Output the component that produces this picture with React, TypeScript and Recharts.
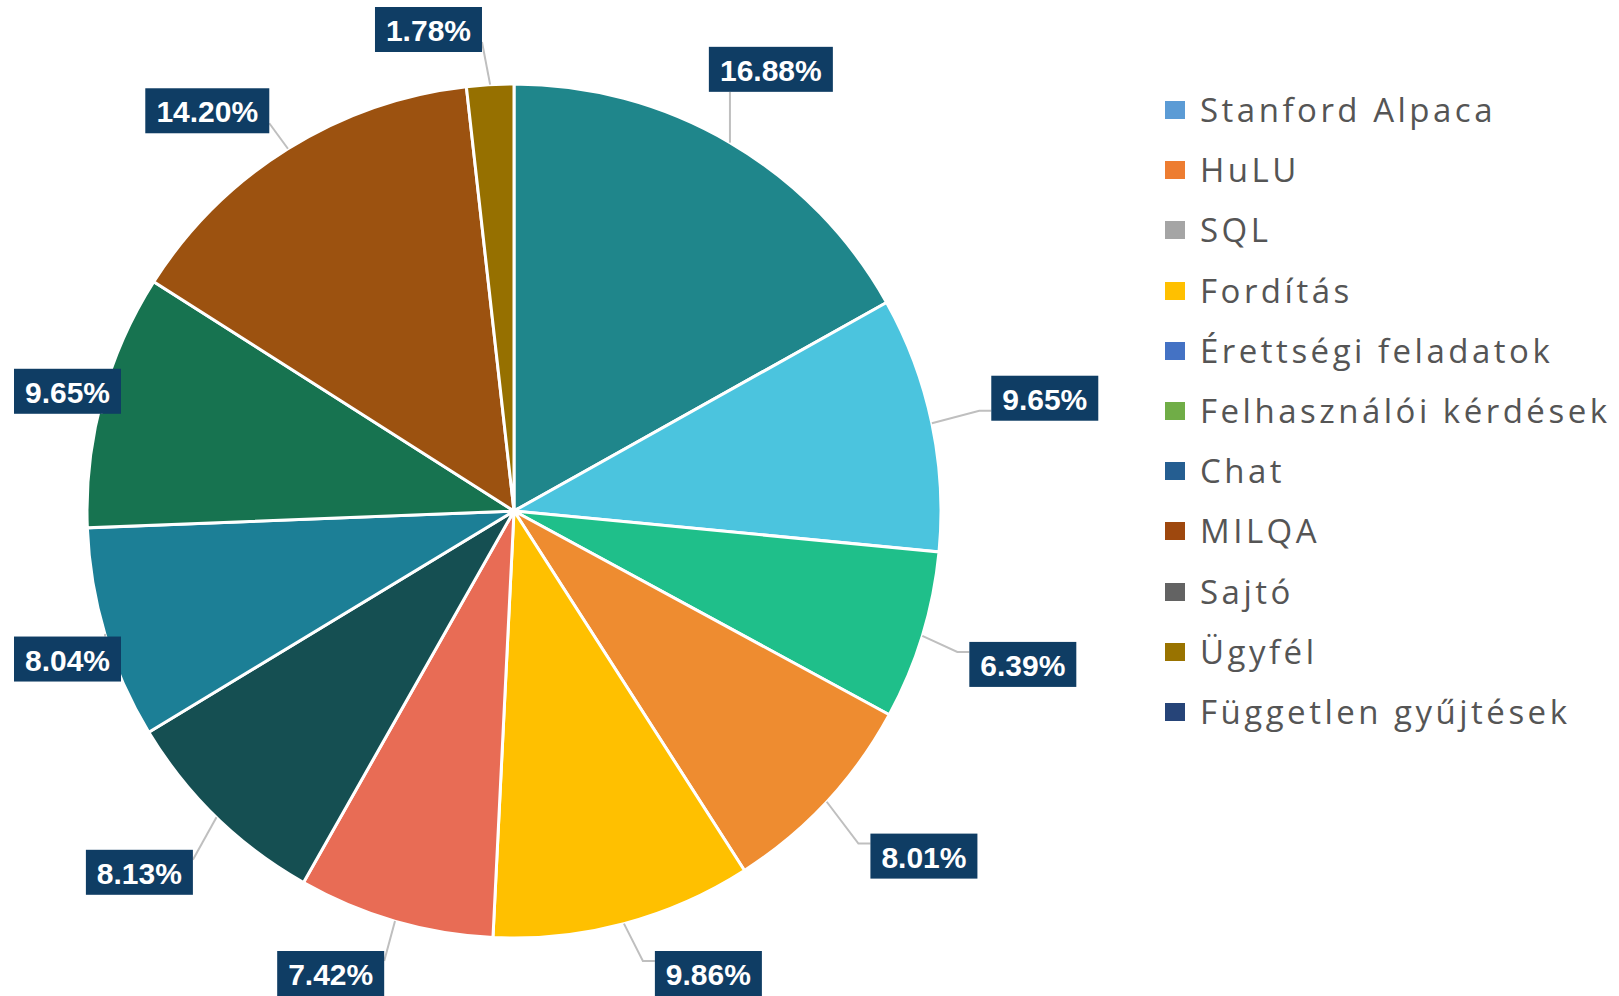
import React from 'react';
import { PieChart, Pie, Cell, Legend } from 'recharts';

const categories = [
  'Stanford Alpaca',
  'HuLU',
  'SQL',
  'Fordítás',
  'Érettségi feladatok',
  'Felhasználói kérdések',
  'Chat',
  'MILQA',
  'Sajtó',
  'Ügyfél',
  'Független gyűjtések',
];

// slice shares in percent, clockwise from 12 o'clock
const shares = [16.88, 9.65, 6.39, 8.01, 9.86, 7.42, 8.13, 8.04, 9.65, 14.2, 1.78];

const sliceColors = [
  '#1F868B', '#4BC4DE', '#1FBF8A', '#EE8C30', '#FFC000', '#E86C55',
  '#154F52', '#1C7F96', '#177350', '#9C5210', '#967000',
];

const legendColors = [
  '#5B9BD5', '#ED7D31', '#A5A5A5', '#FFC000', '#4472C4', '#70AD47',
  '#255E91', '#9E480E', '#636363', '#997300', '#264478',
];

const data = shares.map((v, i) => ({ name: categories[i], value: v }));

const W = 1619;
const H = 996;
const CX = 514;
const CY = 511;
const R = 427;

// small callout adjustments, like Excel's best-fit placement
const labelNudge: [number, number][] = [
  [-5, 5], [18, -5], [7, 0], [28, -10], [65, 2], [-43, 2],
  [-12, -12], [0, -3], [0, 17], [-32, 40], [-58, -1],
];

const charW: Record<string, number> = { '.': 0.278, '%': 0.889 };
const textWidth = (s: string, size: number) =>
  s.split('').reduce((a, c) => a + (charW[c] ?? 0.556), 0) * size;

const RAD = Math.PI / 180;

const renderLabel = (props: any) => {
  const { midAngle, index, value } = props;
  const cx = Number(props.cx ?? CX);
  const cy = Number(props.cy ?? CY);
  const outer = Number(props.outerRadius ?? R);
  const text = `${Number(value).toFixed(2)}%`;
  const fs = 30;
  const bw = Math.round(textWidth(text, fs) + 22);
  const bh = 45;
  const ux = Math.cos(-midAngle * RAD);
  const uy = Math.sin(-midAngle * RAD);
  const px = cx + outer * ux;
  const py = cy + outer * uy;
  const half = Math.abs(ux) * bw / 2 + Math.abs(uy) * bh / 2;
  const d = outer + 40 + half;
  let bx = cx + d * ux;
  let by = cy + d * uy;
  const clamp = (v: number, lo: number, hi: number) => Math.max(lo, Math.min(hi, v));
  bx = clamp(bx, 14 + bw / 2, W - bw / 2);
  by = clamp(by, 7 + bh / 2, H - bh / 2);
  const n = labelNudge[index] || [0, 0];
  bx = clamp(bx + n[0], 14 + bw / 2, W - bw / 2);
  by = clamp(by + n[1], 7 + bh / 2, H - bh / 2);
  const left = bx - bw / 2;
  const right = bx + bw / 2;
  const top = by - bh / 2;
  const bottom = by + bh / 2;

  let pts: number[][];
  if (px >= left && px <= right) {
    const qx = clamp(px, left + 10, right - 10);
    const qy = py < top ? top : bottom;
    pts = [[px, py], [qx, qy]];
  } else {
    const onRight = px > right;
    const qx = onRight ? right : left;
    const qy = clamp(py, top + 10, bottom - 10);
    if (Math.abs(px - qx) > 24) {
      const ex = onRight ? qx + 12 : qx - 12;
      pts = [[px, py], [ex, qy], [qx, qy]];
    } else {
      pts = [[px, py], [qx, qy]];
    }
  }

  return (
    <g key={`lbl-${index}`}>
      <polyline
        points={pts.map((p) => p.join(',')).join(' ')}
        fill="none"
        stroke="#BFBFBF"
        strokeWidth={2}
      />
      <rect x={left} y={top} width={bw} height={bh} fill="#0F3D64" />
      <text
        x={bx}
        y={by + 1}
        textAnchor="middle"
        dominantBaseline="central"
        fill="#FFFFFF"
        fontFamily="'Liberation Sans', Arial, sans-serif"
        fontWeight="bold"
        fontSize={fs}
      >
        {text}
      </text>
    </g>
  );
};

const renderLegend = () => (
  <div style={{ fontFamily: "'Open Sans', sans-serif" }}>
    {categories.map((c, i) => (
      <div
        key={c}
        style={{ display: 'flex', alignItems: 'center', height: 60.2 }}
      >
        <div
          style={{
            width: 20,
            height: 18,
            background: legendColors[i],
            marginRight: 15,
          }}
        />
        <span
          style={{
            fontSize: 33,
            color: '#555555',
            lineHeight: '60px',
            letterSpacing: 3.5,
            whiteSpace: 'nowrap',
          }}
        >
          {c}
        </span>
      </div>
    ))}
  </div>
);

const App = () => {
  return (
    <div
      style={{
        position: 'absolute',
        left: 0,
        top: 0,
        width: W,
        height: H,
        background: '#FFFFFF',
        overflow: 'hidden',
      }}
    >
      <PieChart width={W} height={H} margin={{ top: 0, right: 0, bottom: 0, left: 0 }}>
        <Pie
          data={data}
          dataKey="value"
          nameKey="name"
          cx={CX}
          cy={CY}
          outerRadius={R}
          startAngle={90}
          endAngle={-270}
          stroke="#FFFFFF"
          strokeWidth={3}
          label={renderLabel}
          labelLine={false}
          isAnimationActive={false}
        >
          {data.map((d, i) => (
            <Cell key={d.name} fill={sliceColors[i]} />
          ))}
        </Pie>
        <Legend
          content={renderLegend}
          layout="vertical"
          verticalAlign="top"
          align="right"
          wrapperStyle={{ left: 1165, top: 80, width: 454 }}
        />
      </PieChart>
    </div>
  );
};

export default App;
